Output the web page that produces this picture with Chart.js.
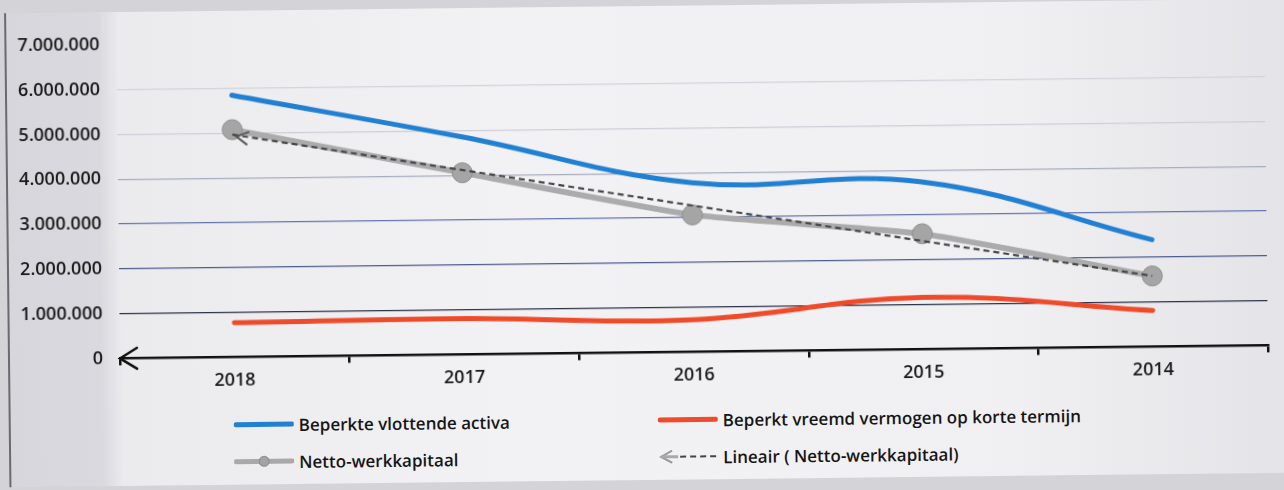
<!doctype html>
<html lang="nl">
    <head>
        <meta charset="UTF-8" />
        <title>Netto-werkkapitaal 2014-2018</title>
        <script src="https://cdn.jsdelivr.net/npm/chart.js"></script>
        <style>
            body {
                margin: 0;
                width: 1284px;
                height: 490px;
                overflow: hidden;
                background: #d3d3d8;
                font-family: "Open Sans", "Noto Sans", sans-serif;
            }
            #page {
                position: absolute;
                left: 0;
                top: 0;
                width: 1284px;
                height: 490px;
                transform: rotate(-0.65deg);
                transform-origin: 120px 359px;
            }
            #card {
                position: absolute;
                left: 8px;
                top: 12px;
                width: 1290px;
                height: 474px;
                border-left: 2px solid #6a6a70;
                background: linear-gradient(to right, #d7d6dd 0px, #dad9df 92px, #ebebee 112px, #f2f2f4 500px, #f0f0f2 1000px, #e4e4e8 1276px);
            }
            #myChart {
                position: absolute;
                left: 0;
                top: 0;
            }
            .legend-item {
                position: absolute;
                height: 24px;
                display: flex;
                align-items: center;
                font-size: 17px;
                font-weight: 600;
                color: #161616;
                white-space: nowrap;
            }
            .legend-item svg {
                margin-right: 5px;
            }
        </style>
    </head>
    <body>
        <div id="page">
            <div id="card"></div>
            <canvas id="myChart" width="1284" height="407"></canvas>

            <div class="legend-item" style="left: 233px; top: 414px">
                <svg width="60" height="10"><line x1="2" y1="5" x2="58" y2="5" stroke="#2180d2" stroke-width="5" stroke-linecap="round" /></svg>
                Beperkte vlottende activa
            </div>
            <div class="legend-item" style="left: 233px; top: 451px">
                <svg width="60" height="14">
                    <line x1="2" y1="7" x2="58" y2="7" stroke="#a9a9a9" stroke-width="5" stroke-linecap="round" />
                    <circle cx="30" cy="7" r="5" fill="#a3a3a3" stroke="#8c8c8c" />
                </svg>
                Netto-werkkapitaal
            </div>
            <div class="legend-item" style="left: 657px; top: 414px">
                <svg width="60" height="10"><line x1="2" y1="5" x2="58" y2="5" stroke="#ef4b2b" stroke-width="5" stroke-linecap="round" /></svg>
                Beperkt vreemd vermogen op korte termijn
            </div>
            <div class="legend-item" style="left: 657px; top: 451px">
                <svg width="60" height="14">
                    <polyline points="14,1 3,7 14,13" fill="none" stroke="#9a9a9a" stroke-width="2" />
                    <line x1="3" y1="7" x2="20" y2="7" stroke="#a9a9a9" stroke-width="3" />
                    <line x1="22" y1="7" x2="58" y2="7" stroke="#444" stroke-width="2" stroke-dasharray="6,4" />
                </svg>
                Lineair ( Netto-werkkapitaal)
            </div>
        </div>

        <script>
            var years = ["2018", "2017", "2016", "2015", "2014"];
            var vlottendeActiva = [5850000, 4860000, 3780000, 3740000, 2390000];
            var vreemdVermogenKort = [770000, 800000, 720000, 1160000, 810000];
            var nettoWerkkapitaal = [5080000, 4060000, 3060000, 2580000, 1580000];
            var lineairNetto = [4970000, 4120000, 3270000, 2420000, 1580000];
            var yTicks = [0, 1000000, 2000000, 3000000, 4000000, 5000000, 6000000, 7000000];

            // grid line colours per tick (darker near the axis)
            var gridColors = {
                0: "rgba(0,0,0,0)",
                1000000: "#2c3148",
                2000000: "#4c5b8c",
                3000000: "#6474ac",
                4000000: "#a7acc0",
                5000000: "#cdced8",
                6000000: "#d2d3db",
                7000000: "rgba(0,0,0,0)"
            };

            function formatNL(v) {
                return String(v).replace(/\B(?=(\d{3})+(?!\d))/g, ".");
            }

            function drawOpenArrow(ctx, x, y, angle, len, spread, color, width) {
                ctx.save();
                ctx.strokeStyle = color;
                ctx.lineWidth = width;
                ctx.lineCap = "round";
                ctx.lineJoin = "miter";
                ctx.beginPath();
                ctx.moveTo(x + Math.cos(angle + spread) * len, y + Math.sin(angle + spread) * len);
                ctx.lineTo(x, y);
                ctx.lineTo(x + Math.cos(angle - spread) * len, y + Math.sin(angle - spread) * len);
                ctx.stroke();
                ctx.restore();
            }

            // arrow heads: left end of the x axis and start of the trend line
            var arrowPlugin = {
                id: "arrows",
                afterDatasetsDraw: function (chart) {
                    var ctx = chart.ctx;
                    var area = chart.chartArea;
                    var y0 = chart.scales.y.getPixelForValue(0);
                    drawOpenArrow(ctx, area.left, y0, 0, 20, 0.55, "#111", 2.5);

                    var pts = chart.getDatasetMeta(0).data;
                    if (pts.length > 1) {
                        var a = Math.atan2(pts[1].y - pts[0].y, pts[1].x - pts[0].x);
                        drawOpenArrow(ctx, pts[0].x + 4, pts[0].y + 2, a, 13, 0.5, "#555", 2);
                    }
                }
            };

            var tickFont = { family: "'Open Sans'", size: 18, weight: "600" };

            var ctx = document.getElementById("myChart").getContext("2d");
            var chart = new Chart(ctx, {
                type: "line",
                data: {
                    labels: years,
                    datasets: [
                        {
                            label: "Lineair ( Netto-werkkapitaal)",
                            data: lineairNetto,
                            borderColor: "#474747",
                            borderWidth: 2.2,
                            borderDash: [6, 4],
                            pointRadius: 0,
                            tension: 0,
                            order: 0
                        },
                        {
                            label: "Netto-werkkapitaal",
                            data: nettoWerkkapitaal,
                            borderColor: "#ababab",
                            backgroundColor: "#a5a5a5",
                            borderWidth: 6,
                            pointRadius: 10,
                            pointBorderColor: "#8e8e8e",
                            pointBorderWidth: 1,
                            pointBackgroundColor: "#a5a5a5",
                            tension: 0.15,
                            order: 1
                        },
                        {
                            label: "Beperkt vreemd vermogen op korte termijn",
                            data: vreemdVermogenKort,
                            borderColor: "#ef4b2b",
                            borderWidth: 5,
                            pointRadius: 0,
                            tension: 0.4,
                            borderCapStyle: "round",
                            order: 2
                        },
                        {
                            label: "Beperkte vlottende activa",
                            data: vlottendeActiva,
                            borderColor: "#2180d2",
                            borderWidth: 5,
                            pointRadius: 0,
                            tension: 0.4,
                            borderCapStyle: "round",
                            order: 3
                        }
                    ]
                },
                options: {
                    responsive: false,
                    animation: false,
                    events: [],
                    layout: {
                        padding: { left: 8, right: 16, top: 45, bottom: 8 }
                    },
                    plugins: {
                        legend: { display: false },
                        tooltip: { enabled: false }
                    },
                    scales: {
                        x: {
                            offset: true,
                            border: { display: true, color: "#111", width: 2.5 },
                            grid: {
                                offset: true,
                                drawOnChartArea: false,
                                drawTicks: true,
                                tickLength: 7,
                                color: "#111",
                                lineWidth: 2.5
                            },
                            ticks: {
                                padding: 6,
                                color: "#1a1a1a",
                                font: tickFont
                            }
                        },
                        y: {
                            min: 0,
                            max: 7000000,
                            border: { display: false },
                            afterFit: function (scale) {
                                scale.width = 112;
                            },
                            afterBuildTicks: function (scale) {
                                scale.ticks = yTicks.map(function (v) {
                                    return { value: v };
                                });
                            },
                            grid: {
                                drawTicks: false,
                                lineWidth: 1.2,
                                color: function (c) {
                                    return gridColors[c.tick.value] || "#ccc";
                                }
                            },
                            ticks: {
                                padding: 17,
                                color: "#1a1a1a",
                                font: tickFont,
                                callback: function (v) {
                                    return formatNL(v);
                                }
                            }
                        }
                    }
                },
                plugins: [arrowPlugin]
            });
        </script>
    </body>
</html>
